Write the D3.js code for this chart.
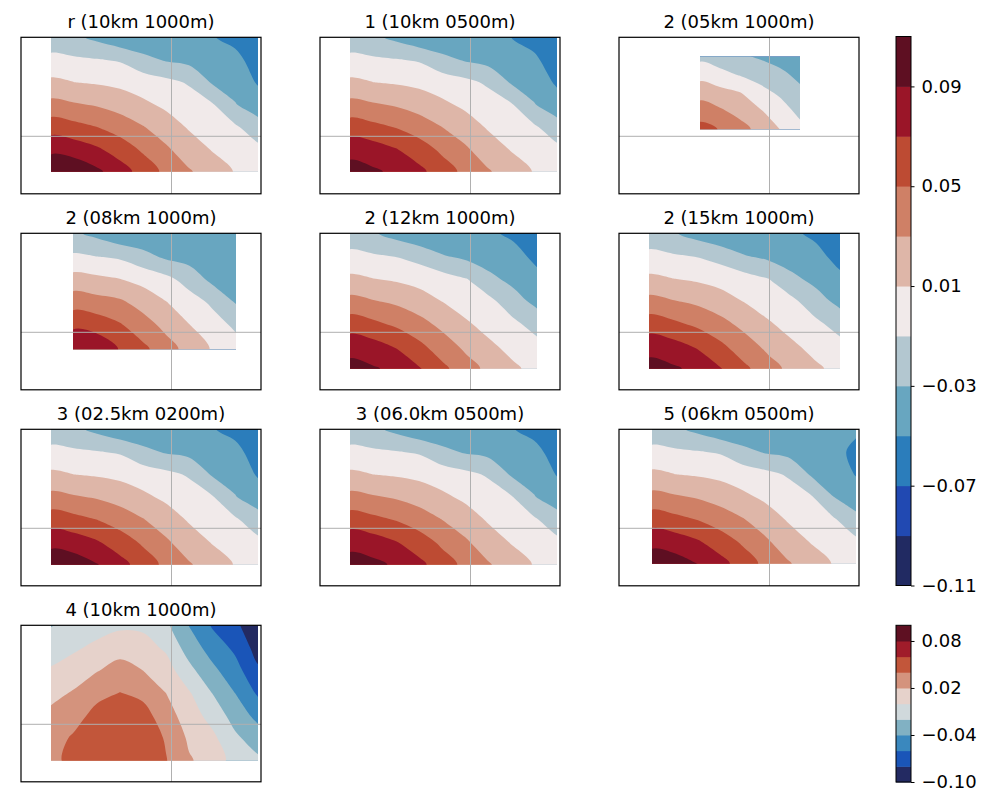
<!DOCTYPE html>
<html>
<head>
<meta charset="utf-8">
<script src="https://cdn.jsdelivr.net/npm/d3@7"></script>
<style>
  body { margin: 0; background: #fff; }
  svg { display: block; font-family: "DejaVu Sans", sans-serif; }
</style>
</head>
<body>
<div id="chart"></div>
<script>
// contour levels and colours (cmocean balance look)
const levelsMain = [-0.11, -0.09, -0.07, -0.05, -0.03, -0.01, 0.01, 0.03, 0.05, 0.07, 0.09, 0.11];
const colorsMain = ["#212a62", "#2149b2", "#2b7dbb", "#68a6c0", "#b3c7d0", "#f1eaea",
                    "#deb6a8", "#cf8066", "#bd4b33", "#9a1528", "#5e0f22"];
const ticksMain = [-0.11, -0.07, -0.03, 0.01, 0.05, 0.09];

const levelsAlt = [-0.10, -0.08, -0.06, -0.04, -0.02, 0.00, 0.02, 0.04, 0.06, 0.08, 0.10];
const colorsAlt = ["#232a62", "#1a55b8", "#3a88be", "#81b1c3", "#d0d9dc",
                   "#e6d2cb", "#d4937d", "#c2563a", "#a01c2a", "#5e1022"];
const ticksAlt = [-0.10, -0.04, 0.02, 0.08];

// axes (km), same for every panel
const xDomain = [0, 24];
const yDomain = [0, 15.65];
const gridX = [15.05];
const gridY = [5.75];

const titles = ["r (10km 1000m)", "1 (10km 0500m)", "2 (05km 1000m)",
                "2 (08km 1000m)", "2 (12km 1000m)", "2 (15km 1000m)",
                "3 (02.5km 0200m)", "3 (06.0km 0500m)", "5 (06km 0500m)",
                "4 (10km 1000m)"];

// data extent of each run: [x0, x1, y0, y1]
const extents = [
  [3.0, 23.7, 2.2, 15.65],
  [3.0, 23.7, 2.2, 15.65],
  [8.1, 18.1, 6.45, 13.7],
  [5.2, 21.5, 4.05, 15.65],
  [3.0, 21.7, 2.1, 15.65],
  [3.0, 22.1, 2.1, 15.65],
  [3.0, 23.7, 2.1, 15.65],
  [3.0, 23.7, 2.1, 15.65],
  [3.3, 23.7, 2.2, 15.65],
  [3.0, 23.7, 2.1, 15.65]
];

// fields, rows from top to bottom
const fieldR = [
  [-0.021, -0.026, -0.035, -0.045, -0.047, -0.043, -0.046, -0.049, -0.055, -0.064],
  [-0.005, -0.007, -0.009, -0.012, -0.024, -0.032, -0.036, -0.041, -0.045, -0.058],
  [ 0.014,  0.010,  0.008,  0.005,  0.000, -0.005, -0.012, -0.032, -0.037, -0.052],
  [ 0.036,  0.032,  0.028,  0.022,  0.014,  0.006, -0.001, -0.008, -0.029, -0.040],
  [ 0.061,  0.056,  0.050,  0.041,  0.031,  0.020,  0.008,  0.000, -0.007, -0.022],
  [ 0.085,  0.081,  0.073,  0.061,  0.047,  0.033,  0.020,  0.009,  0.001, -0.005],
  [ 0.107,  0.105,  0.094,  0.079,  0.062,  0.045,  0.032,  0.020,  0.009,  0.002]
];
const field1 = [
  [-0.021, -0.026, -0.035, -0.045, -0.047, -0.044, -0.047, -0.050, -0.056, -0.065],
  [-0.005, -0.007, -0.009, -0.012, -0.024, -0.032, -0.037, -0.042, -0.047, -0.059],
  [ 0.014,  0.010,  0.008,  0.005,  0.000, -0.005, -0.013, -0.032, -0.038, -0.053],
  [ 0.036,  0.032,  0.028,  0.022,  0.014,  0.006, -0.001, -0.008, -0.029, -0.041],
  [ 0.060,  0.055,  0.049,  0.040,  0.030,  0.020,  0.008,  0.000, -0.007, -0.022],
  [ 0.083,  0.079,  0.071,  0.060,  0.046,  0.033,  0.020,  0.009,  0.001, -0.005],
  [ 0.098,  0.093,  0.086,  0.075,  0.060,  0.045,  0.032,  0.020,  0.009,  0.002]
];
const field2a = [
  [-0.015, -0.020, -0.027, -0.032, -0.038, -0.045],
  [ 0.003, -0.004, -0.011, -0.018, -0.025, -0.035],
  [ 0.023,  0.017,  0.011, -0.003, -0.013, -0.025],
  [ 0.040,  0.033,  0.024,  0.012, -0.001, -0.015],
  [ 0.057,  0.049,  0.037,  0.024,  0.010, -0.004]
];
const field2b = [
  [-0.027, -0.035, -0.046, -0.047, -0.047, -0.047, -0.047, -0.047],
  [-0.007, -0.010, -0.013, -0.023, -0.034, -0.038, -0.044, -0.046],
  [ 0.018,  0.015,  0.011,  0.004, -0.004, -0.018, -0.035, -0.040],
  [ 0.042,  0.038,  0.034,  0.023,  0.011, -0.001, -0.013, -0.031],
  [ 0.067,  0.063,  0.053,  0.039,  0.025,  0.011, -0.002, -0.013],
  [ 0.088,  0.086,  0.069,  0.055,  0.038,  0.023,  0.008, -0.003]
];
const field2c = [
  [-0.022, -0.028, -0.038, -0.046, -0.047, -0.045, -0.048, -0.053, -0.060],
  [-0.005, -0.008, -0.011, -0.018, -0.029, -0.035, -0.040, -0.045, -0.054],
  [ 0.014,  0.010,  0.007,  0.003, -0.003, -0.010, -0.026, -0.036, -0.046],
  [ 0.036,  0.031,  0.026,  0.018,  0.009,  0.001, -0.006, -0.022, -0.036],
  [ 0.060,  0.054,  0.046,  0.036,  0.024,  0.012,  0.003, -0.006, -0.018],
  [ 0.082,  0.077,  0.068,  0.054,  0.039,  0.025,  0.013,  0.004, -0.004],
  [ 0.097,  0.092,  0.085,  0.071,  0.054,  0.038,  0.024,  0.013,  0.004]
];
const field2d = [
  [-0.022, -0.028, -0.038, -0.046, -0.047, -0.045, -0.048, -0.053, -0.061],
  [-0.005, -0.008, -0.011, -0.018, -0.029, -0.035, -0.040, -0.046, -0.055],
  [ 0.014,  0.010,  0.007,  0.003, -0.003, -0.010, -0.026, -0.036, -0.047],
  [ 0.036,  0.031,  0.026,  0.018,  0.009,  0.001, -0.006, -0.022, -0.036],
  [ 0.060,  0.054,  0.046,  0.036,  0.024,  0.012,  0.003, -0.006, -0.018],
  [ 0.082,  0.077,  0.068,  0.054,  0.039,  0.025,  0.013,  0.004, -0.004],
  [ 0.098,  0.093,  0.085,  0.071,  0.054,  0.038,  0.024,  0.013,  0.004]
];
const field3a = [
  [-0.021, -0.026, -0.035, -0.045, -0.047, -0.043, -0.046, -0.049, -0.055, -0.064],
  [-0.005, -0.007, -0.009, -0.012, -0.024, -0.032, -0.036, -0.041, -0.045, -0.058],
  [ 0.014,  0.010,  0.008,  0.005,  0.000, -0.005, -0.012, -0.032, -0.037, -0.052],
  [ 0.036,  0.032,  0.028,  0.022,  0.014,  0.006, -0.001, -0.008, -0.029, -0.040],
  [ 0.061,  0.056,  0.050,  0.041,  0.031,  0.020,  0.008,  0.000, -0.007, -0.022],
  [ 0.084,  0.080,  0.072,  0.060,  0.047,  0.033,  0.020,  0.009,  0.001, -0.005],
  [ 0.104,  0.101,  0.091,  0.077,  0.061,  0.045,  0.032,  0.020,  0.009,  0.002]
];
const field3b = [
  [-0.021, -0.026, -0.035, -0.045, -0.047, -0.044, -0.047, -0.049, -0.055, -0.063],
  [-0.005, -0.007, -0.009, -0.012, -0.024, -0.032, -0.036, -0.041, -0.045, -0.057],
  [ 0.014,  0.010,  0.008,  0.005,  0.000, -0.005, -0.012, -0.032, -0.037, -0.051],
  [ 0.036,  0.032,  0.028,  0.022,  0.014,  0.006, -0.001, -0.008, -0.029, -0.040],
  [ 0.060,  0.055,  0.049,  0.040,  0.030,  0.020,  0.008,  0.000, -0.007, -0.022],
  [ 0.083,  0.079,  0.071,  0.060,  0.046,  0.033,  0.020,  0.009,  0.001, -0.005],
  [ 0.099,  0.095,  0.087,  0.075,  0.060,  0.045,  0.032,  0.020,  0.009,  0.002]
];
const field5 = [
  [-0.021, -0.026, -0.035, -0.045, -0.047, -0.044, -0.046, -0.047, -0.047, -0.048],
  [-0.005, -0.007, -0.009, -0.012, -0.024, -0.032, -0.036, -0.041, -0.046, -0.053],
  [ 0.014,  0.010,  0.008,  0.005,  0.000, -0.005, -0.012, -0.032, -0.040, -0.051],
  [ 0.036,  0.032,  0.028,  0.022,  0.014,  0.006, -0.001, -0.008, -0.030, -0.042],
  [ 0.060,  0.055,  0.049,  0.040,  0.031,  0.020,  0.008,  0.000, -0.008, -0.024],
  [ 0.084,  0.080,  0.072,  0.060,  0.047,  0.033,  0.020,  0.009,  0.001, -0.006],
  [ 0.102,  0.099,  0.090,  0.077,  0.061,  0.045,  0.032,  0.020,  0.009,  0.002]
];
const field4 = [
  [-0.021, -0.016, -0.009, -0.004, -0.004, -0.016, -0.0405, -0.062, -0.076, -0.094],
  [-0.009, -0.003,  0.005,  0.013,  0.008, -0.003, -0.029, -0.048, -0.064, -0.088],
  [ 0.002,  0.010,  0.019,  0.027,  0.020,  0.009, -0.014, -0.035, -0.052, -0.077],
  [ 0.014,  0.022,  0.034,  0.0405, 0.035,  0.020,  0.002, -0.020, -0.040, -0.063],
  [ 0.025,  0.032,  0.047,  0.049,  0.048,  0.029,  0.010, -0.007, -0.028, -0.046],
  [ 0.031,  0.043,  0.053,  0.056,  0.054,  0.038,  0.017,  0.005, -0.016, -0.030],
  [ 0.033,  0.048,  0.055,  0.058,  0.056,  0.041,  0.022,  0.012, -0.008, -0.016]
];

const fields = [fieldR, field1, field2a, field2b, field2c, field2d, field3a, field3b, field5, field4];

const panel = { width: 240, height: 156.5, left: 21, top: 37.3, stepX: 299, stepY: 196 };

const svg = d3.select("#chart").append("svg")
  .attr("width", 1002)
  .attr("height", 788);

titles.forEach((title, i) => {
  const useAlt = i === 9;
  drawPanel(i, title, extents[i], fields[i],
            useAlt ? levelsAlt : levelsMain, useAlt ? colorsAlt : colorsMain);
});

drawColorbar(levelsMain, colorsMain, ticksMain, 36.5, 585.5);
drawColorbar(levelsAlt, colorsAlt, ticksAlt, 625.3, 782);

function drawPanel(i, title, extent, field, levels, colors){
  const col = i % 3, row = Math.floor(i / 3);
  const left = panel.left + col * panel.stepX;
  const top = panel.top + row * panel.stepY;

  const x = d3.scaleLinear().domain(xDomain).range([left, left + panel.width]);
  const y = d3.scaleLinear().domain(yDomain).range([top + panel.height, top]);

  const g = svg.append("g").classed("panel", true);
  const [x0, x1, y0, y1] = extent;

  g.append("clipPath").attr("id", "clip" + i)
    .append("rect")
      .attr("x", x(x0))
      .attr("y", y(y1))
      .attr("width", x(x1) - x(x0))
      .attr("height", y(y0) - y(y1));

  const ny = field.length, nx = field[0].length;
  const contours = d3.contours()
    .size([nx, ny])
    .thresholds(levels.slice(0, -1))(field.flat());

  // grid value i sits at contour coordinate i + 0.5
  const cellX = (x1 - x0) / (nx - 1), cellY = (y1 - y0) / (ny - 1);
  const line = d3.line()
    .x(p => x(x0 + (p[0] - 0.5) * cellX))
    .y(p => y(y1 - (p[1] - 0.5) * cellY))
    .curve(d3.curveCatmullRomClosed.alpha(0.5));

  g.append("g")
    .attr("clip-path", `url(#clip${i})`)
    .selectAll("path")
    .data(contours)
    .join("path")
      .attr("d", c => c.coordinates
        .map(poly => poly.map(ring => line(ring.slice(0, -1))).join(""))
        .join(""))
      .attr("fill", (c, k) => colors[k])
      .attr("fill-rule", "evenodd");

  g.selectAll(".gridX").data(gridX).join("line")
    .attr("x1", d => x(d)).attr("x2", d => x(d))
    .attr("y1", top).attr("y2", top + panel.height)
    .attr("stroke", "#b0b0b0").attr("stroke-width", 1);
  g.selectAll(".gridY").data(gridY).join("line")
    .attr("x1", left).attr("x2", left + panel.width)
    .attr("y1", d => y(d)).attr("y2", d => y(d))
    .attr("stroke", "#b0b0b0").attr("stroke-width", 1);

  g.append("rect")
    .attr("x", left).attr("y", top)
    .attr("width", panel.width).attr("height", panel.height)
    .attr("fill", "none")
    .attr("stroke", "#000")
    .attr("stroke-width", 1.2);

  g.append("text")
    .attr("x", left + panel.width / 2)
    .attr("y", top - 9)
    .attr("text-anchor", "middle")
    .attr("font-size", 18)
    .attr("fill", "#000")
    .text(title);
}

function drawColorbar(levels, colors, ticks, yTop, yBottom){
  const left = 896, width = 15;
  const scale = d3.scaleLinear()
    .domain([levels[0], levels[levels.length - 1]])
    .range([yBottom, yTop]);

  const g = svg.append("g").classed("colorbar", true);
  g.selectAll("rect")
    .data(colors)
    .join("rect")
      .attr("x", left)
      .attr("width", width)
      .attr("y", (c, k) => scale(levels[k + 1]))
      .attr("height", (c, k) => scale(levels[k]) - scale(levels[k + 1]) + 0.5)
      .attr("fill", c => c);

  g.append("rect")
    .attr("x", left).attr("y", yTop)
    .attr("width", width).attr("height", yBottom - yTop)
    .attr("fill", "none").attr("stroke", "#000").attr("stroke-width", 1);

  const axis = g.append("g")
    .attr("transform", `translate(${left + width}, 0)`)
    .call(d3.axisRight(scale)
      .tickValues(ticks)
      .tickSize(3.5)
      .tickPadding(7)
      .tickFormat(d3.format(".2f")));
  axis.select(".domain").remove();
  axis.selectAll("text")
    .attr("font-size", 18)
    .attr("font-family", "DejaVu Sans, sans-serif")
    .attr("fill", "#000");
  axis.selectAll("line").attr("stroke", "#000");
}
</script>
</body>
</html>
